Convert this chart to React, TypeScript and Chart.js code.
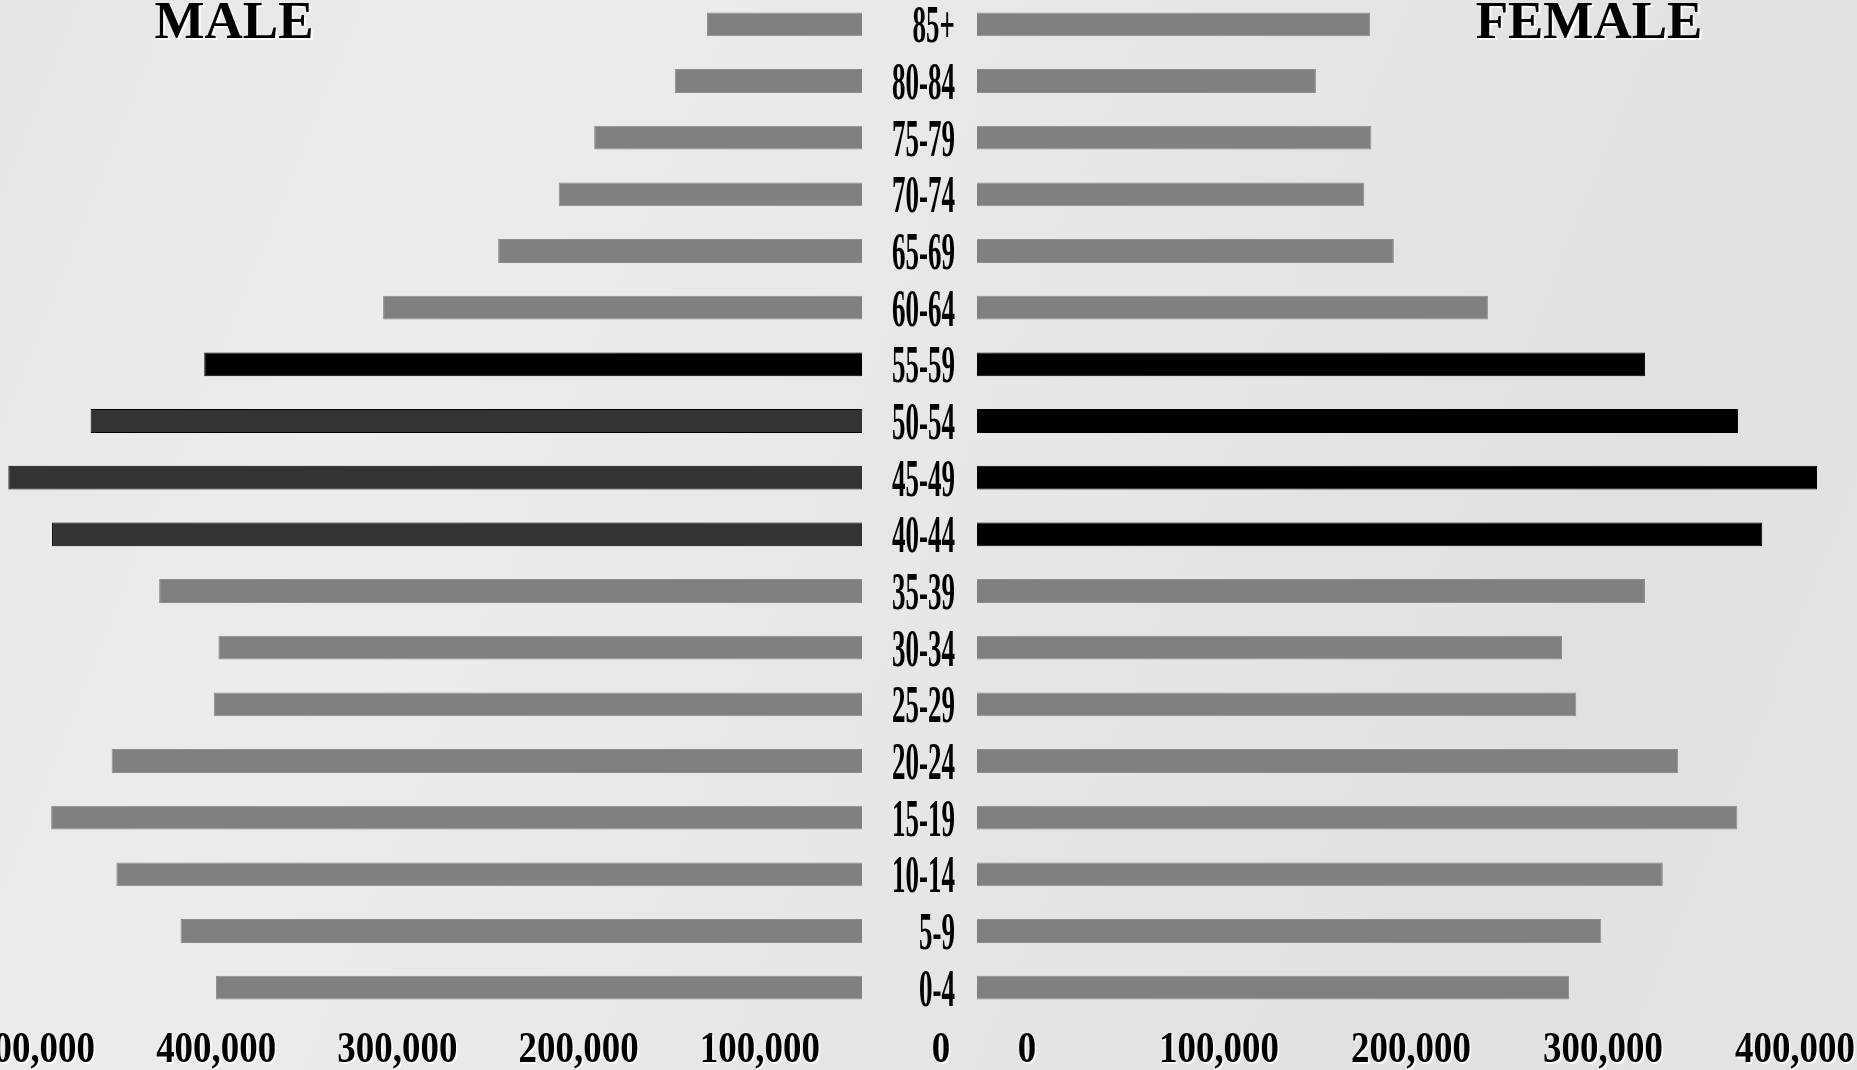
import { useEffect, useRef } from "react";
import { Chart, registerables } from "chart.js";

Chart.register(...registerables);

// Age groups, oldest at the top
const AGE_GROUPS = [
  "85+", "80-84", "75-79", "70-74", "65-69", "60-64", "55-59", "50-54", "45-49",
  "40-44", "35-39", "30-34", "25-29", "20-24", "15-19", "10-14", "5-9", "0-4",
];

// Population by age group
const MALE_POPULATION = [
  85600, 103300, 147800, 167400, 200800, 264300, 363000, 425700, 471100,
  447000, 387900, 355200, 357800, 414100, 447500, 411500, 376100, 356500,
];
const FEMALE_POPULATION = [
  204800, 176500, 205400, 201700, 217100, 266100, 347900, 396400, 437500,
  409000, 347900, 304700, 312100, 365200, 396000, 357200, 325100, 308400,
];

// Axis tick values
const AXIS_TICKS = [0, 100000, 200000, 300000, 400000, 500000];

// Highlighted cohorts
const MALE_DARK_GROUPS = ["40-44", "45-49", "50-54"];
const MALE_BLACK_GROUPS = ["55-59"];
const FEMALE_BLACK_GROUPS = ["40-44", "45-49", "50-54", "55-59"];

const GREY = "#808080";
const GREY_EDGE = "#8d8d8d";
const DARK = "#333333";
const BLACK = "#000000";

const SERIF = '"Liberation Serif", "Times New Roman", serif';

// Canvas layout (page pixels)
const CANVAS_TOP = -4;
const CANVAS_HEIGHT = 1074;
const MALE_CANVAS_LEFT = -44;
const MALE_CANVAS_WIDTH = 1901;
const MALE_AREA_WIDTH = 906;
const FEMALE_CANVAS_WIDTH = 1937;
const FEMALE_AREA_LEFT = 977;
const BOTTOM_PAD = 46;

function condensedText(
  ctx: CanvasRenderingContext2D,
  text: string,
  x: number,
  y: number,
  size: number,
  squeeze: number,
  align: CanvasTextAlign,
  glow: number
) {
  ctx.save();
  ctx.translate(x, y);
  ctx.scale(squeeze, 1);
  ctx.font = `bold ${size}px ${SERIF}`;
  ctx.textAlign = align;
  ctx.textBaseline = "alphabetic";
  if (glow > 0) {
    ctx.shadowColor = "rgba(255,255,255,0.95)";
    ctx.shadowOffsetX = glow;
    ctx.shadowOffsetY = glow;
    ctx.shadowBlur = 1;
  }
  ctx.fillStyle = "#000";
  ctx.fillText(text, 0, 0);
  ctx.restore();
}

function tickText(v: number) {
  return v.toLocaleString("en-US");
}

// Draws condensed tick labels under an x axis, shifted by a fixed offset
function tickLabelPlugin(id: string, shift: number) {
  return {
    id,
    afterDraw(chart: any) {
      const ctx = chart.ctx as CanvasRenderingContext2D;
      const xs = chart.scales.x;
      const y = chart.chartArea.bottom + 46;
      for (const t of xs.ticks) {
        if (!AXIS_TICKS.includes(t.value)) continue;
        const x = xs.getPixelForValue(t.value) + shift;
        condensedText(ctx, tickText(t.value), x, y, 44, 0.84, "center", 1.5);
      }
    },
  };
}

function titlePlugin(id: string, text: string, pageX: number, canvasLeft: number) {
  return {
    id,
    afterDraw(chart: any) {
      const ctx = chart.ctx as CanvasRenderingContext2D;
      condensedText(ctx, text, pageX - canvasLeft, 38 - CANVAS_TOP, 53, 1, "center", 2);
    },
  };
}

const ageLabelPlugin = {
  id: "ageLabels",
  afterDraw(chart: any) {
    const ctx = chart.ctx as CanvasRenderingContext2D;
    const ys = chart.scales.y;
    const x = chart.chartArea.left - 22;
    AGE_GROUPS.forEach((g, i) => {
      const y = ys.getPixelForValue(i) + 18;
      condensedText(ctx, g, x, y, 52, 0.52, "right", 0);
    });
  },
};

function barColors(groups: string[], dark: string[], black: string[]) {
  const fill = groups.map((g) => (black.includes(g) ? BLACK : dark.includes(g) ? DARK : GREY));
  const edge = groups.map((g) => (black.includes(g) || dark.includes(g) ? BLACK : GREY_EDGE));
  return { fill, edge };
}

function baseOptions(reverse: boolean, padding: any) {
  return {
    indexAxis: "y" as const,
    responsive: false,
    animation: false as const,
    events: [],
    layout: { padding },
    plugins: { legend: { display: false }, tooltip: { enabled: false }, title: { display: false } },
    scales: {
      x: {
        type: "linear" as const,
        reverse,
        min: 0,
        max: 500000,
        ticks: { display: false, stepSize: 100000 },
        grid: { display: false },
        border: { display: false },
      },
      y: {
        type: "category" as const,
        display: false,
        offset: true,
        grid: { display: false },
      },
    },
  };
}

export default function App() {
  const maleRef = useRef<HTMLCanvasElement>(null);
  const femaleRef = useRef<HTMLCanvasElement>(null);

  useEffect(() => {
    const maleColors = barColors(AGE_GROUPS, MALE_DARK_GROUPS, MALE_BLACK_GROUPS);
    const femaleColors = barColors(AGE_GROUPS, [], FEMALE_BLACK_GROUPS);

    const male = new Chart(maleRef.current!, {
      type: "bar",
      data: {
        labels: AGE_GROUPS,
        datasets: [
          {
            label: "Male",
            data: MALE_POPULATION,
            backgroundColor: maleColors.fill,
            borderColor: maleColors.edge,
            borderWidth: 1,
            barPercentage: 0.42,
            categoryPercentage: 1,
          },
        ],
      },
      options: baseOptions(true, {
        left: 0,
        right: MALE_CANVAS_WIDTH - MALE_AREA_WIDTH,
        top: 0,
        bottom: BOTTOM_PAD,
      }) as any,
      plugins: [tickLabelPlugin("maleTicks", 79), titlePlugin("maleTitle", "MALE", 234, MALE_CANVAS_LEFT)],
    });

    const female = new Chart(femaleRef.current!, {
      type: "bar",
      data: {
        labels: AGE_GROUPS,
        datasets: [
          {
            label: "Female",
            data: FEMALE_POPULATION,
            backgroundColor: femaleColors.fill,
            borderColor: femaleColors.edge,
            borderWidth: 1,
            barPercentage: 0.42,
            categoryPercentage: 1,
          },
        ],
      },
      options: baseOptions(false, {
        left: FEMALE_AREA_LEFT,
        right: 0,
        top: 0,
        bottom: BOTTOM_PAD,
      }) as any,
      plugins: [tickLabelPlugin("femaleTicks", 50), ageLabelPlugin, titlePlugin("femaleTitle", "FEMALE", 1589, 0)],
    });

    return () => {
      male.destroy();
      female.destroy();
    };
  }, []);

  return (
    <div
      style={{
        position: "fixed",
        left: 0,
        top: 0,
        width: 1857,
        height: 1070,
        overflow: "hidden",
        background:
          "linear-gradient(112deg, #e6e6e6 0%, #ececec 22%, #e9e9e9 40%, #e5e5e5 60%, #e1e1e1 80%, #e4e4e4 100%)",
      }}
    >
      <canvas
        ref={maleRef}
        width={MALE_CANVAS_WIDTH}
        height={CANVAS_HEIGHT}
        style={{ position: "absolute", left: MALE_CANVAS_LEFT, top: CANVAS_TOP }}
      />
      <canvas
        ref={femaleRef}
        width={FEMALE_CANVAS_WIDTH}
        height={CANVAS_HEIGHT}
        style={{ position: "absolute", left: 0, top: CANVAS_TOP }}
      />
    </div>
  );
}
